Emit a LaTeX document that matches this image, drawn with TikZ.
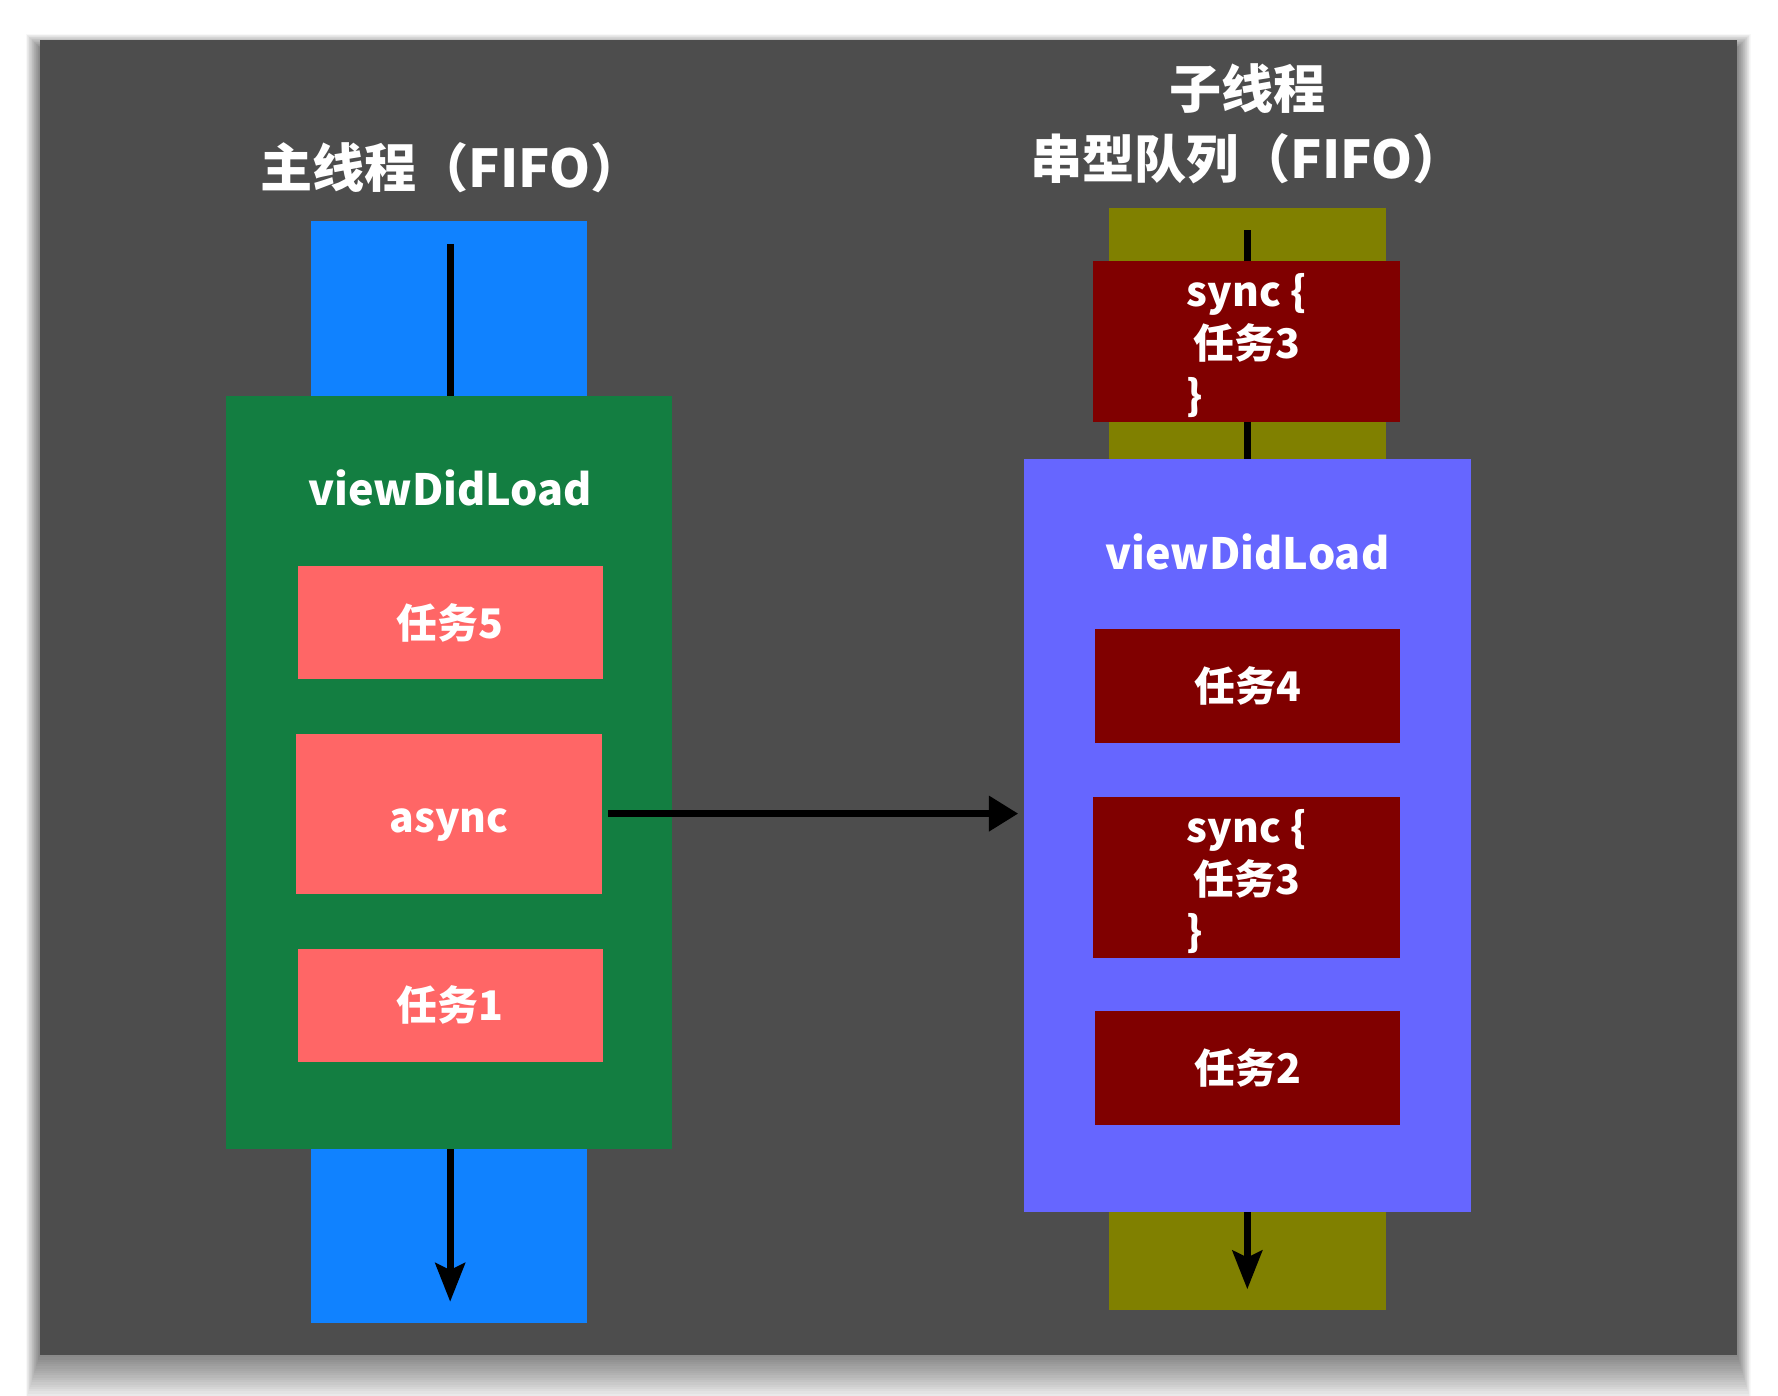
\documentclass[tikz,border=0pt]{standalone}
\usepackage{fontspec}
\setmainfont{Noto Sans CJK SC}
\usetikzlibrary{arrows.meta}
\definecolor{bggray}{HTML}{4D4D4D}
\definecolor{mainblue}{HTML}{1082FF}
\definecolor{maingreen}{HTML}{137E41}
\definecolor{tasksalmon}{HTML}{FF6666}
\definecolor{subolive}{HTML}{808000}
\definecolor{subviolet}{HTML}{6666FF}
\definecolor{taskred}{HTML}{800000}
\newcommand{\synctext}{\rule{0pt}{18pt}sync \{\\任务3\\\}\rule{46pt}{0pt}}

\begin{document}
\begin{tikzpicture}[x=0.5pt,y=-0.5pt,
    box/.style={inner sep=0pt,outer sep=0pt},
    bar/.style={box,minimum width=122pt,minimum height=486pt},
    frame/.style={box,minimum width=197pt,minimum height=332pt},
    task/.style={box,text=white,minimum width=134.5pt,minimum height=50pt,
                 font=\bfseries\fontsize{18}{23}\selectfont},
    synctask/.style={task,align=center,minimum width=135.5pt,minimum height=71pt},
    label/.style={text=white,align=center,font=\bfseries\fontsize{23}{31}\selectfont},
    flow/.style={line width=3.2pt,-{Stealth[length=17pt,width=13pt,inset=3pt]}},
  ]
  \fill[white] (0,0) rectangle (1568,1231);
  \useasboundingbox (0,0) rectangle (1568,1231);
  % soft shadow
  \foreach \i in {1,...,20}
    \fill[black,opacity=0.028] (35-0.6*\i,42-0.6*\i) rectangle (1532+0.6*\i,1195+2*\i);
  \fill[bggray] (35,35) rectangle (1532,1195);

  % main thread
  \node[label] (maintitle) at (398,148) {主线程（FIFO）};
  \node[bar,fill=mainblue] (mainbar) at (396,681) {};
  \coordinate (mtop) at (397,215);
  \coordinate (mbot) at (397,1148);
  \draw[flow] (mtop) -- (mbot);
  \node[frame,fill=maingreen] (mainload) at (396,681) {};
  \node[label,font=\bfseries\fontsize{19}{25}\selectfont] (mainvdl) at (397,430) {viewDidLoad};
  \node[task,fill=tasksalmon] (task5) at (397,549) {任务5};
  \node[task,fill=tasksalmon,minimum width=135pt,minimum height=70.5pt] (async) at (396,717.5)
    {\raisebox{-5pt}[\height][\depth]{async}};
  \node[task,fill=tasksalmon] (task1) at (397,886.5) {任务1};

  % sub thread, serial queue
  \node[label] (subtitle) at (1100,109) {子线程\\串型队列（FIFO）};
  \node[bar,fill=subolive] (subbar) at (1100,669.5) {};
  \coordinate (stop) at (1100,203);
  \coordinate (sbot) at (1100,1137);
  \draw[flow] (stop) -- (sbot);
  \node[synctask,fill=taskred] (synctop) at (1099.5,301) {\synctext};
  \node[frame,fill=subviolet] (subload) at (1100,737) {};
  \node[label,font=\bfseries\fontsize{19}{25}\selectfont] (subvdl) at (1100,487) {viewDidLoad};
  \node[task,fill=taskred] (task4) at (1100.5,605) {任务4};
  \node[synctask,fill=taskred] (syncmid) at (1099.5,774) {\synctext};
  \node[task,fill=taskred] (task2) at (1100.5,942) {任务2};

  \draw[line width=3.2pt,-{Triangle[length=13pt,width=15pt]},shorten <=2.5pt,shorten >=2.5pt]
    (async.east) -- (async.east -| subload.west);
\end{tikzpicture}
\end{document}
